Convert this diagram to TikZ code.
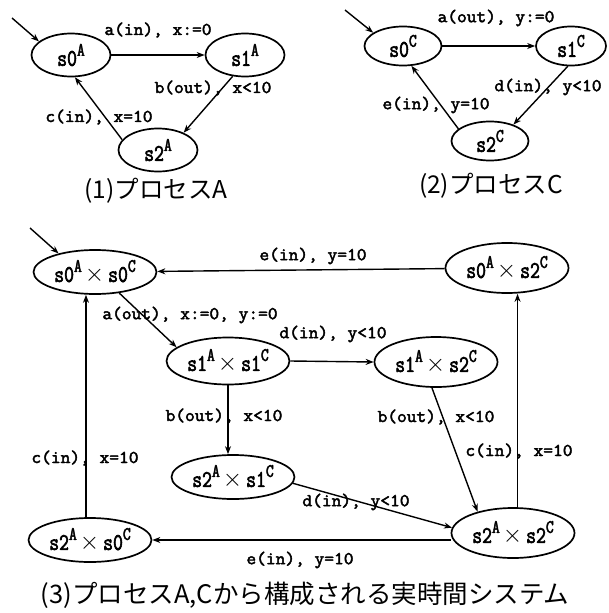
\documentclass[tikz,border=0pt]{standalone}
\usepackage{fontspec}
\usetikzlibrary{shapes.geometric,arrows.meta}
\newfontfamily\labfont[FakeStretch=1.05,FakeBold=2.5]{Latin Modern Mono}
\newfontfamily\nodefont[FakeStretch=0.8,FakeBold=2.5]{Latin Modern Mono}
\newfontfamily\jpfont{Noto Sans CJK JP}
\newcommand{\stt}[2]{#1\raisebox{0.42em}{\fontsize{19}{19}\selectfont #2}}
\newcommand{\prd}[4]{\stt{#1}{#2}\hspace{3pt}$\times$\hspace{4pt}\stt{#3}{#4}}
\begin{document}
\begin{tikzpicture}[x=1pt,y=-1pt,
  st/.style={ellipse,draw,line width=1.7pt,inner sep=0pt,font=\nodefont\fontsize{24}{24}\selectfont},
  sa/.style={st,minimum width=79pt,minimum height=43pt},
  sc/.style={st,minimum width=77pt,minimum height=39pt},
  sp/.style={st,minimum width=123pt,minimum height=47pt},
  lbl/.style={inner sep=0pt,font=\labfont\fontsize{18}{18}\selectfont},
  captxt/.style={inner sep=0pt,font=\jpfont\fontsize{24.5}{25}\selectfont},
  tr/.style={-{Stealth[length=8pt,width=6pt]},line width=1.4pt},
]
\useasboundingbox (0,0) rectangle (608,613);
% process A
\node[sa] (s0A) at (71,55) {\stt{s0}{A}};
\node[sa] (s1A) at (245,55) {\stt{s1}{A}};
\node[sa] (s2A) at (158,150) {\stt{s2}{A}};
\coordinate (iA) at (12,18);
\draw[tr] (iA) -- (s0A.157);
\draw[tr] (s0A.east) -- (s1A.west);
\draw[tr] (s1A.240) -- (s2A.34);
\draw[tr] (s2A.164) -- (s0A.-80);
\node[lbl] (la1) at (158,30) {a(in), x:=0};
\node[lbl] (la2) at (213,88) {b(out), x<10};
\node[lbl] (la3) at (99,117) {c(in), x=10};
\node[captxt] (cap1) at (156,191) {(1)プロセスA};
% process C
\node[sc] (s0C) at (403,46) {\stt{s0}{C}};
\node[sc,minimum width=70pt] (s1C) at (571,46) {\stt{s1}{C}};
\node[sc] (s2C) at (490,141) {\stt{s2}{C}};
\coordinate (iC) at (345,10);
\draw[tr] (iC) -- (s0C.156);
\draw[tr] (s0C.east) -- (s1C.west);
\draw[tr] (s1C.261) -- (s2C.35);
\draw[tr] (s2C.159) -- (s0C.-67);
\node[lbl] (lc1) at (496,18) {a(out), y:=0};
\node[lbl] (lc2) at (548,87) {d(in), y<10};
\node[lbl] (lc3) at (436,105) {e(in), y=10};
\node[captxt] (cap2) at (491,186) {(2)プロセスC};
% product
\node[sp,minimum height=44pt] (P00) at (95,272) {\prd{s0}{A}{s0}{C}};
\node[sp,minimum height=50pt] (P02) at (507,268) {\prd{s0}{A}{s2}{C}};
\node[sp] (P11) at (228,361) {\prd{s1}{A}{s1}{C}};
\node[sp,minimum height=50pt] (P12) at (436,362) {\prd{s1}{A}{s2}{C}};
\node[sp,minimum height=44pt] (P21) at (233,477) {\prd{s2}{A}{s1}{C}};
\node[sp,minimum height=44pt] (P20) at (90,540) {\prd{s2}{A}{s0}{C}};
\node[sp,minimum height=50pt] (P22) at (513,533) {\prd{s2}{A}{s2}{C}};
\coordinate (iP) at (30,228);
\draw[tr] (iP) -- (P00.153);
\draw[tr] (P02) -- (P00);
\draw[tr] (P00.-41) -- (P11.165);
\draw[tr] (P11.east) -- (P12.west);
\draw[tr] (P11.south) -- (P11.south |- P21.north);
\draw[tr] (P20.100) -- (P20.100 |- P00.south);
\draw[tr] (P22.80) -- (P22.80 |- P02.south);
\draw[tr] (P21.-6) -- (P22.175);
\draw[tr] (P12.261) -- (P22.149);
\draw[tr] (P22.west |- P20.east) -- (P20.east);
\node[lbl] (l1) at (313,256) {e(in), y=10};
\node[lbl] (l2) at (190,315) {a(out), x:=0, y:=0};
\node[lbl] (l3) at (333,334) {d(in), y<10};
\node[lbl] (l4) at (224,416) {b(out), x<10};
\node[lbl] (l5) at (85,458) {c(in), x=10};
\node[lbl] (l6) at (356,502) {d(in), y<10};
\node[lbl] (l7) at (436,417) {b(out), x<10};
\node[lbl] (l8) at (519,451) {c(in), x=10};
\node[lbl] (l9) at (300,560) {e(in), y=10};
\node[captxt,font=\jpfont\fontsize{25.5}{26}\selectfont] (cap3) at (305,595) {(3)プロセスA,Cから構成される実時間システム};
\end{tikzpicture}
\end{document}
